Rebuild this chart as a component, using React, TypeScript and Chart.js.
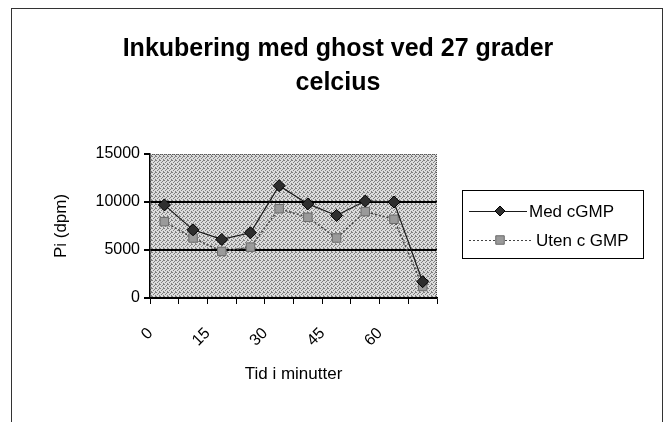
import React, { useEffect, useRef } from "react";
import { Chart, registerables } from "chart.js";

Chart.register(...registerables);

const chartTitle = ["Inkubering med ghost ved 27 grader", "celcius"];
const xAxisTitle = "Tid i minutter";
const yAxisTitle = "Pi (dpm)";
const categories = ["0", "", "15", "", "30", "", "45", "", "60", ""];
const seriesNames = ["Med cGMP", "Uten c GMP"];
const medCGMP = [9700, 7100, 6100, 6800, 11700, 9800, 8600, 10100, 10000, 1700];
const utenCGMP = [7950, 6250, 4850, 5300, 9300, 8400, 6250, 9000, 8200, 1200];
const yTicks = [0, 5000, 10000, 15000];

const FONT = "'Liberation Sans', Arial, sans-serif";

function makePattern(ctx: CanvasRenderingContext2D) {
  const pc = document.createElement("canvas");
  pc.width = 4;
  pc.height = 4;
  const p = pc.getContext("2d")!;
  p.fillStyle = "#dcdcdc";
  p.fillRect(0, 0, 4, 4);
  p.fillStyle = "#808080";
  [[0, 0], [2, 1], [1, 2], [3, 3], [3, 0]].forEach(([x, y]) => p.fillRect(x, y, 1, 1));
  return ctx.createPattern(pc, "repeat");
}

const bgPlugin = {
  id: "bgPlugin",
  beforeDraw(chart: any) {
    const { ctx, chartArea: a } = chart;
    ctx.save();
    ctx.fillStyle = "#ffffff";
    ctx.fillRect(0, 0, chart.width, chart.height);
    const pat = makePattern(ctx);
    if (pat) ctx.fillStyle = pat;
    ctx.fillRect(a.left, a.top, a.right - a.left, a.bottom - a.top);
    ctx.strokeStyle = "#333";
    ctx.lineWidth = 1;
    ctx.strokeRect(11.5, 8.5, 651, 440);
    ctx.restore();
  },
  beforeDatasetsDraw(chart: any) {
    const { ctx, chartArea: a } = chart;
    ctx.save();
    ctx.strokeStyle = "#555";
    ctx.lineWidth = 1;
    ctx.setLineDash([1, 1]);
    ctx.beginPath();
    ctx.moveTo(a.left, a.top + 0.5);
    ctx.lineTo(a.right, a.top + 0.5);
    ctx.moveTo(a.right - 0.5, a.top);
    ctx.lineTo(a.right - 0.5, a.bottom);
    ctx.stroke();
    ctx.restore();
  },
};

function drawMarker(ctx: CanvasRenderingContext2D, style: string, x: number, y: number, r: number, fill: string, stroke: string) {
  ctx.save();
  ctx.setLineDash([]);
  ctx.fillStyle = fill;
  ctx.strokeStyle = stroke;
  ctx.lineWidth = 1;
  ctx.beginPath();
  if (style === "rectRot") {
    ctx.moveTo(x, y - r);
    ctx.lineTo(x + r, y);
    ctx.lineTo(x, y + r);
    ctx.lineTo(x - r, y);
    ctx.closePath();
  } else {
    const s = r * 0.85;
    ctx.rect(x - s, y - s, 2 * s, 2 * s);
  }
  ctx.fill();
  ctx.stroke();
  ctx.restore();
}

const legendPlugin = {
  id: "boxLegend",
  afterDraw(chart: any) {
    const ctx: CanvasRenderingContext2D = chart.ctx;
    ctx.save();
    ctx.fillStyle = "#ffffff";
    ctx.fillRect(462.5, 190.5, 181, 68);
    ctx.strokeStyle = "#000";
    ctx.lineWidth = 1;
    ctx.strokeRect(462.5, 190.5, 181, 68);
    chart.data.datasets.forEach((ds: any, i: number) => {
      const y = 211 + i * 29;
      ctx.strokeStyle = ds.borderColor;
      ctx.lineWidth = 1;
      ctx.setLineDash(ds.borderDash || []);
      ctx.beginPath();
      ctx.moveTo(469, y + 0.5);
      ctx.lineTo(i === 0 ? 527 : 532, y + 0.5);
      ctx.stroke();
      drawMarker(ctx, ds.pointStyle, 500, y, 5, ds.pointBackgroundColor, ds.pointBorderColor);
      ctx.fillStyle = "#000";
      ctx.font = `17px ${FONT}`;
      ctx.textBaseline = "middle";
      ctx.textAlign = "left";
      ctx.fillText(ds.label, i === 0 ? 529 : 536, y + 1);
    });
    ctx.restore();
  },
};

export default function App() {
  const ref = useRef<HTMLCanvasElement>(null);

  useEffect(() => {
    if (!ref.current) return;
    const chart = new Chart(ref.current, {
      type: "line",
      data: {
        labels: categories,
        datasets: [
          {
            label: seriesNames[0],
            data: medCGMP,
            borderColor: "#1a1a1a",
            borderWidth: 1.2,
            pointStyle: "rectRot",
            pointRadius: 6,
            pointBackgroundColor: "#2e2e2e",
            pointBorderColor: "#000",
            pointBorderWidth: 1,
            tension: 0,
          },
          {
            label: seriesNames[1],
            data: utenCGMP,
            borderColor: "#444",
            borderWidth: 1.5,
            borderDash: [2, 2],
            pointStyle: "rect",
            pointRadius: 6,
            pointBackgroundColor: "#9a9a9a",
            pointBorderColor: "#6a6a6a",
            pointBorderWidth: 1,
            tension: 0,
          },
        ],
      },
      options: {
        responsive: false,
        animation: false,
        layout: { padding: { left: 12, right: 4, top: 0, bottom: 0 } },
        plugins: {
          legend: { display: false },
          tooltip: { enabled: false },
          title: {
            display: true,
            text: chartTitle,
            color: "#000",
            font: { family: FONT, size: 25, weight: "bold", lineHeight: 1.36 },
            padding: { top: 32, bottom: 54 },
          },
        },
        scales: {
          x: {
            type: "category",
            offset: true,
            afterFit: (scale: any) => {
              scale.height = 124;
            },
            grid: {
              offset: true,
              drawOnChartArea: false,
              drawTicks: true,
              tickLength: 6,
              color: "#000",
              lineWidth: 1,
            },
            border: { display: true, color: "#000", width: 1.5 },
            ticks: {
              autoSkip: false,
              maxRotation: 45,
              minRotation: 45,
              padding: 20,
              labelOffset: -14,
              color: "#000",
              font: { family: FONT, size: 16 },
            },
            title: {
              display: true,
              text: xAxisTitle,
              color: "#000",
              font: { family: FONT, size: 17, lineHeight: 1.2 },
              padding: { top: 0, bottom: 37 },
            },
          },
          y: {
            min: 0,
            max: 15000,
            afterFit: (scale: any) => {
              scale.width = 138;
            },
            afterBuildTicks: (scale: any) => {
              scale.ticks = yTicks.map((v) => ({ value: v }));
            },
            grid: {
              color: (c: any) => (c.tick && c.tick.value === 15000 ? "rgba(0,0,0,0)" : "#000"),
              tickColor: "#000",
              lineWidth: 2,
              tickLength: 6,
              drawTicks: true,
            },
            border: { display: true, color: "#000", width: 1.5 },
            ticks: {
              padding: 4,
              color: "#000",
              font: { family: FONT, size: 16 },
              callback: (v: any) => String(v),
            },
            title: {
              display: true,
              text: yAxisTitle,
              color: "#000",
              font: { family: FONT, size: 17, lineHeight: 1.2 },
              padding: { top: 39, bottom: 0 },
            },
          },
          legendSpace: {
            type: "linear",
            position: "right",
            display: true,
            afterFit: (scale: any) => {
              scale.width = 227;
            },
            grid: { display: false, drawTicks: false },
            border: { display: false },
            ticks: { display: false },
          },
        },
      },
      plugins: [bgPlugin, legendPlugin],
    });
    return () => chart.destroy();
  }, []);

  return (
    <div style={{ position: "fixed", left: 0, top: 0, width: 668, height: 422 }}>
      <canvas ref={ref} width={668} height={422} style={{ display: "block" }} />
    </div>
  );
}
